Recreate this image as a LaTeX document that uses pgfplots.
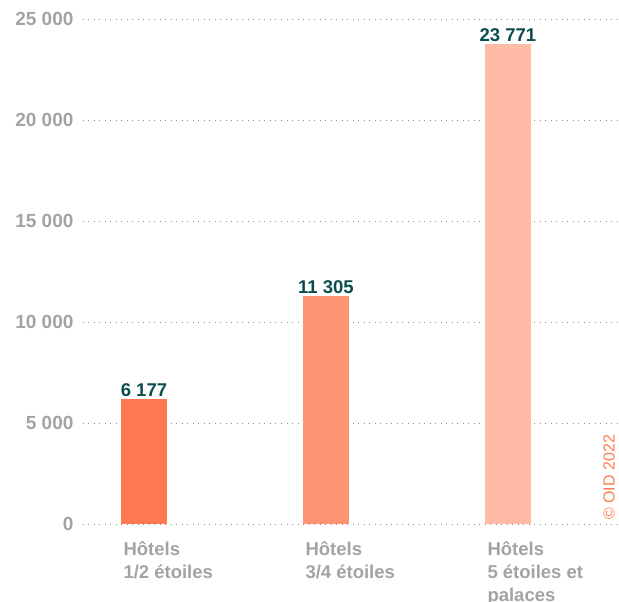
\documentclass[border=0pt]{standalone}
\usepackage{pgfplots}
\pgfplotsset{compat=1.18}
\usepackage{fontspec}
\setmainfont{Liberation Sans}
\definecolor{barA}{HTML}{FF7A50}
\definecolor{barB}{HTML}{FF9475}
\definecolor{barC}{HTML}{FFBBA6}
\definecolor{valtxt}{HTML}{0B4D4F}
\definecolor{ticktxt}{HTML}{A3A3A3}
\definecolor{gridc}{HTML}{8C8C8C}

\begin{document}
\begin{tikzpicture}
\begin{axis}[
  scale only axis, width=536pt, height=505pt,
  xmin=-0.335, xmax=2.61, ymin=0, ymax=25000,
  axis line style={draw=none},
  major tick length=0pt,
  ytick={0,5000,...,25000},
  scaled y ticks=false,
  ymajorgrids,
  grid style={gridc, line width=0.9pt, dash pattern=on 0.9pt off 4.6pt},
  /pgf/number format/1000 sep={\ },
  /pgf/number format/assume math mode=true,
  yticklabel style={font=\bfseries\fontsize{19}{20}\selectfont, text=ticktxt, anchor=east, xshift=-6pt},
  xtick={0,1,2},
  xticklabels={{Hôtels\\1/2 étoiles},{Hôtels\\3/4 étoiles},{Hôtels\\5 étoiles et\\palaces}},
  xticklabel style={font=\bfseries\fontsize{18.5}{23}\selectfont, text=ticktxt, align=left, anchor=north west, xshift=-24pt, yshift=-14pt},
  every node near coord/.append style={font=\bfseries\fontsize{18.5}{20}\selectfont, text=valtxt, inner sep=2pt},
]
\addplot[ybar, bar width=46pt, bar shift=0pt, fill=barA, draw=none, nodes near coords] coordinates {(0,6177)};
\addplot[ybar, bar width=46pt, bar shift=0pt, fill=barB, draw=none, nodes near coords] coordinates {(1,11305)};
\addplot[ybar, bar width=46pt, bar shift=0pt, fill=barC, draw=none, nodes near coords] coordinates {(2,23771)};
\node[rotate=90, anchor=south west, inner sep=0pt, text=barA, font=\fontsize{16}{18}\selectfont] at ([yshift=4pt, xshift=-4pt]axis cs:2.61,0) {© OID 2022};
\coordinate (ll) at (axis cs:-0.335,0);
\coordinate (ur) at (axis cs:2.61,25000);
\end{axis}
\pgfresetboundingbox
\path[use as bounding box] ([shift={(-83pt,-78pt)}]ll) rectangle ([shift={(0pt,19pt)}]ur);
\end{tikzpicture}
\end{document}
